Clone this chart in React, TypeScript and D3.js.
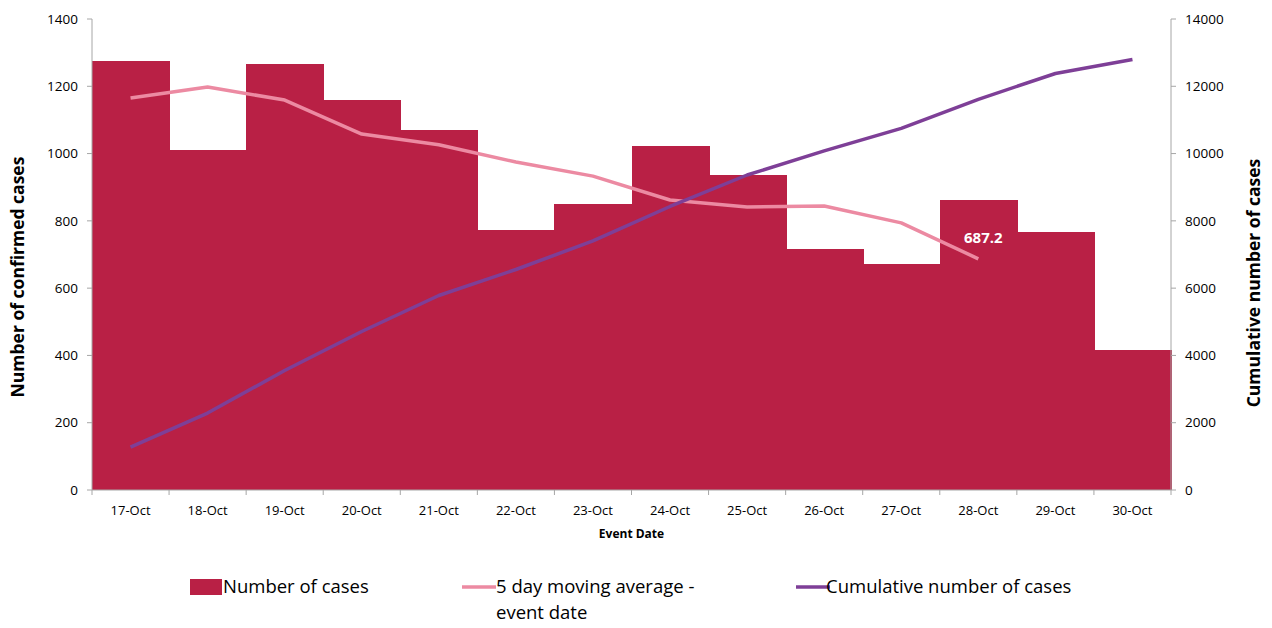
import React from "react";
import * as d3 from "d3";

const categories = ["17-Oct","18-Oct","19-Oct","20-Oct","21-Oct","22-Oct","23-Oct","24-Oct","25-Oct","26-Oct","27-Oct","28-Oct","29-Oct","30-Oct"];
const cases = [1275,1011,1266,1159,1070,773,850,1023,936,716,672,862,767,416];
const movingAvg = [1165,1198,1159,1058,1026,975,933,862,841,844,794,687.2];
const cumulative = [1275,2286,3552,4711,5781,6554,7404,8427,9363,10079,10751,11613,12380,12796];
const leftTicks = [0,200,400,600,800,1000,1200,1400];
const rightTicks = [0,2000,4000,6000,8000,10000,12000,14000];

const W = 1272, H = 628;
const M = { left: 92, right: 1171, top: 19, bottom: 490 };
const FONT = "'Open Sans', sans-serif";
const BAR = "#B92045";
const PINK = "#EC8AA2";
const PURPLE = "#7E3F97";
const AXIS = "#A6A6A6";

export default function App() {
  const x = d3.scaleBand<string>().domain(categories).range([M.left, M.right]).padding(0);
  const yL = d3.scaleLinear().domain([0, 1400]).range([M.bottom, M.top]);
  const yR = d3.scaleLinear().domain([0, 14000]).range([M.bottom, M.top]);
  const cx = (i: number) => (x(categories[i]) as number) + x.bandwidth() / 2;
  const maLine = d3.line<number>().x((_, i) => cx(i)).y((d) => yL(d))(movingAvg) as string;
  const cumLine = d3.line<number>().x((_, i) => cx(i)).y((d) => yR(d))(cumulative) as string;
  const lastI = movingAvg.length - 1;
  const boundaries = categories.map((c) => x(c) as number).concat([M.right]);

  return (
    <svg width={W} height={H} style={{ position: "absolute", left: 0, top: 0, background: "#fff" }} fontFamily={FONT}>
      {cases.map((v, i) => (
        <rect key={i} x={Math.round(x(categories[i]) as number)} y={yL(v)}
          width={Math.round((x(categories[i]) as number) + x.bandwidth()) - Math.round(x(categories[i]) as number) + 1}
          height={M.bottom - yL(v)} fill={BAR} shapeRendering="crispEdges" />
      ))}
      <path d={maLine} fill="none" stroke={PINK} strokeWidth={3.5} strokeLinejoin="round" />
      <path d={cumLine} fill="none" stroke={PURPLE} strokeWidth={3.5} strokeLinejoin="round" />
      <text x={cx(lastI) + 5} y={yL(movingAvg[lastI]) - 16} textAnchor="middle" fill="#fff" fontWeight="bold" fontSize={15}>
        {movingAvg[lastI].toFixed(1)}
      </text>
      {/* left axis */}
      <line x1={M.left} x2={M.left} y1={M.top} y2={M.bottom} stroke={AXIS} />
      {leftTicks.map((t) => (
        <g key={t}>
          <line x1={M.left - 5} x2={M.left} y1={yL(t)} y2={yL(t)} stroke={AXIS} />
          <text x={M.left - 14} y={yL(t)} dy="0.35em" textAnchor="end" fontSize={13.5} fill="#000">{t}</text>
        </g>
      ))}
      {/* right axis */}
      <line x1={M.right} x2={M.right} y1={M.top} y2={M.bottom} stroke={AXIS} />
      {rightTicks.map((t) => (
        <g key={t}>
          <line x1={M.right} x2={M.right + 5} y1={yR(t)} y2={yR(t)} stroke={AXIS} />
          <text x={M.right + 14} y={yR(t)} dy="0.35em" textAnchor="start" fontSize={13.5} fill="#000">{t}</text>
        </g>
      ))}
      {/* x axis */}
      <line x1={M.left} x2={M.right} y1={M.bottom} y2={M.bottom} stroke={AXIS} />
      {boundaries.map((b, i) => (
        <line key={i} x1={b} x2={b} y1={M.bottom} y2={M.bottom + 5} stroke={AXIS} />
      ))}
      {categories.map((c, i) => (
        <text key={c} x={cx(i)} y={510} dy="0.35em" textAnchor="middle" fontSize={13} fill="#000">{c}</text>
      ))}
      <text x={(M.left + M.right) / 2} y={534} dy="0.35em" textAnchor="middle" fontSize={12} fontWeight="bold">Event Date</text>
      <text transform={`translate(18,277) rotate(-90)`} dy="0.35em" textAnchor="middle" fontSize={17.5} fontWeight="bold">Number of confirmed cases</text>
      <text transform={`translate(1254,283) rotate(-90)`} dy="0.35em" textAnchor="middle" fontSize={17.5} fontWeight="bold">Cumulative number of cases</text>
      {/* legend */}
      <rect x={190} y={579} width={32} height={16} fill={BAR} />
      <text x={223} y={587} dy="0.35em" fontSize={18.5}>Number of cases</text>
      <line x1={462} x2={496} y1={587} y2={587} stroke={PINK} strokeWidth={3.5} />
      <text x={496} y={587} dy="0.35em" fontSize={18.5}>5 day moving average -</text>
      <text x={496} y={613} dy="0.35em" fontSize={18.5}>event date</text>
      <line x1={796} x2={830} y1={587} y2={587} stroke={PURPLE} strokeWidth={3.5} />
      <text x={826} y={587} dy="0.35em" fontSize={18.5}>Cumulative number of cases</text>
    </svg>
  );
}
